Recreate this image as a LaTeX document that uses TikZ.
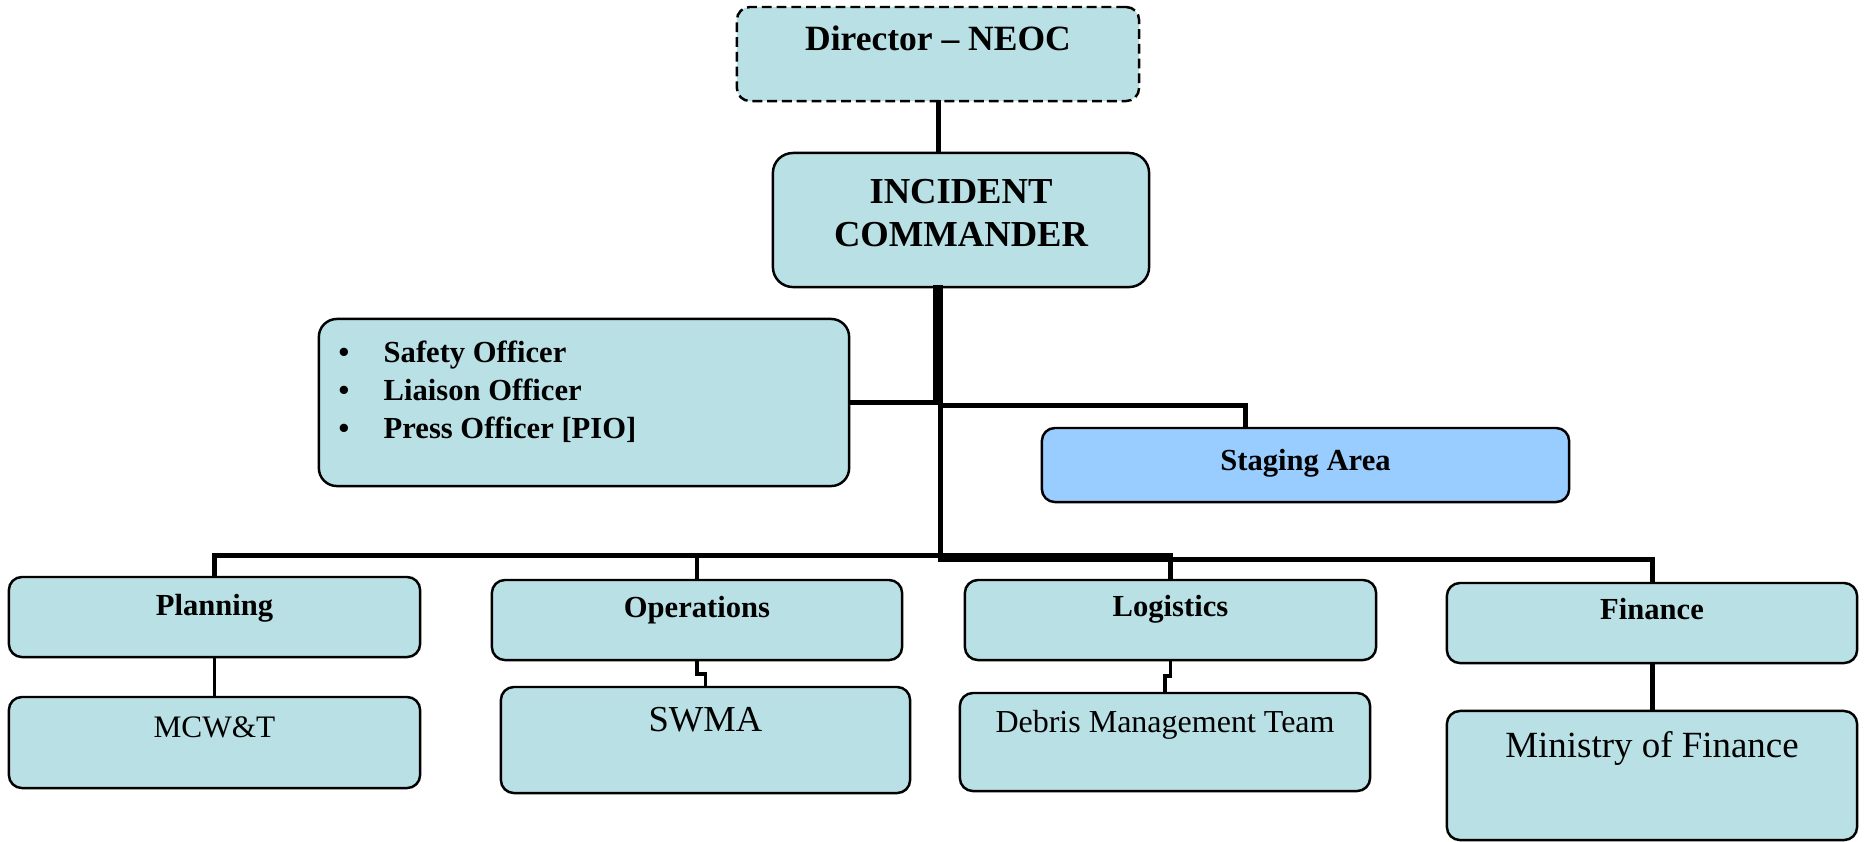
\documentclass[tikz,border=0pt]{standalone}
\usepackage{fontspec}
\setmainfont{Liberation Serif}
\begin{document}
\begin{tikzpicture}[x=0.01cm,y=-0.01cm]
\definecolor{boxfill}{RGB}{185,224,228}
\definecolor{stagefill}{RGB}{153,204,255}
\tikzset{
  box/.style={draw=black, line width=0.7pt, fill=boxfill, rounded corners=0.13cm, inner sep=0pt},
  conn/.style={line width=1.42pt, line cap=rect},
  thinconn/.style={line width=1.1pt},
  lbl/.style={anchor=base, inner sep=0pt, font=\fontsize{8.7}{10}\selectfont\bfseries},
  sub/.style={anchor=base, inner sep=0pt},
  item/.style={anchor=base west, inner sep=0pt, font=\fontsize{8.7}{10}\selectfont\bfseries}
}
\useasboundingbox (0,0) rectangle (1865,841);

% boxes
\node[box, dashed, dash pattern=on 2.8pt off 1.4pt, minimum width=4.02cm, minimum height=0.94cm] (dir) at (938,54) {};
\node[box, rounded corners=0.2cm, minimum width=3.76cm, minimum height=1.34cm] (ic) at (961,220) {};
\node[box, rounded corners=0.18cm, minimum width=5.30cm, minimum height=1.67cm] (safe) at (584,402.5) {};
\node[box, fill=stagefill, minimum width=5.27cm, minimum height=0.74cm] (stag) at (1305.5,465) {};
\node[box, minimum width=4.11cm, minimum height=0.80cm] (plan) at (214.5,617) {};
\node[box, minimum width=4.10cm, minimum height=0.80cm] (ops) at (697,620) {};
\node[box, minimum width=4.11cm, minimum height=0.80cm] (log) at (1170.5,620) {};
\node[box, minimum width=4.10cm, minimum height=0.80cm] (fin) at (1652,623) {};
\node[box, minimum width=4.11cm, minimum height=0.91cm] (mcw) at (214.5,742.5) {};
\node[box, minimum width=4.09cm, minimum height=1.06cm] (swma) at (705.5,740) {};
\node[box, minimum width=4.10cm, minimum height=0.98cm] (debris) at (1165,742) {};
\node[box, minimum width=4.10cm, minimum height=1.29cm] (min) at (1652,775.5) {};

% texts
\node[sub, font=\fontsize{10.1}{12}\selectfont\bfseries] (tdir) at (938,50) {Director – NEOC};
\node[sub, font=\fontsize{10.4}{12}\selectfont\bfseries] (tic1) at (961,203) {INCIDENT};
\node[sub, font=\fontsize{10.4}{12}\selectfont\bfseries] (tic2) at (961,246) {COMMANDER};
\node[item] (s1) at (338,362) {\makebox[0.45cm][l]{•}Safety Officer};
\node[item] (s2) at (338,400) {\makebox[0.45cm][l]{•}Liaison Officer};
\node[item] (s3) at (338,438) {\makebox[0.45cm][l]{•}Press Officer [PIO]};
\node[lbl] (tstag) at (1305.5,470) {Staging Area};
\node[lbl] (tplan) at (214.5,615) {Planning};
\node[lbl] (tops) at (697,617) {Operations};
\node[lbl] (tlog) at (1170.5,616) {Logistics};
\node[lbl] (tfin) at (1652,619) {Finance};
\node[sub, font=\fontsize{8.9}{10}\selectfont] (tmcw) at (214.5,737) {MCW\&T};
\node[sub, font=\fontsize{10.4}{12}\selectfont] (tswma) at (705.5,731) {SWMA};
\node[sub, font=\fontsize{9.1}{11}\selectfont] (tdeb) at (1165,732) {Debris Management Team};
\node[sub, font=\fontsize{10.5}{12}\selectfont] (tmin) at (1652,757) {Ministry of Finance};

% connectors
\coordinate (t1) at (935,287);
\coordinate (t2) at (940,287);
\coordinate (sj) at (1245,405);
\coordinate (b1) at (940,555);
\coordinate (b2) at (940,559);

\draw[conn] (dir.south) -- (dir.south |- ic.north);
\draw[conn] (t1) |- (safe.east);
\draw[conn] (t2) |- (sj) -- (sj |- stag.north);
\draw[conn] (t2) -- (b2);
\draw[conn] (plan.north) |- (b1) -| (log.north);
\draw[conn] (ops.north) -- (ops.north |- b1);
\draw[conn] (b2) -| (fin.north);
\draw[thinconn] (plan.south) -- (mcw.north);
\draw[thinconn] (ops.south) -- ++(0,13) -| (swma.north);
\draw[thinconn] (log.south) -- ++(0,15) -| (debris.north);
\draw[conn] (fin.south) -- (min.north);
\end{tikzpicture}
\end{document}
